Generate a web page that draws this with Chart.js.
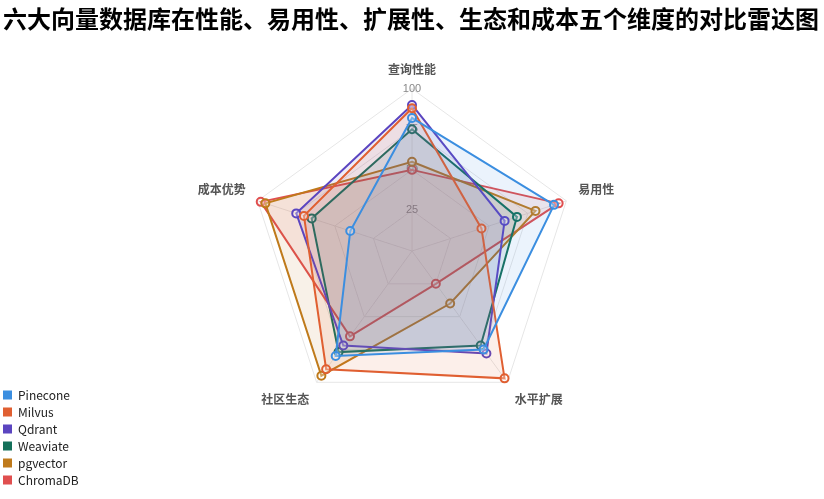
<!DOCTYPE html>
<html>
<head>
<meta charset="utf-8">
<script src="https://cdn.jsdelivr.net/npm/chart.js@4.4.1/dist/chart.umd.min.js"></script>
<style>
  html, body { margin: 0; padding: 0; background: #fff; }
  #wrap { width: 824px; height: 499px; }
</style>
</head>
<body>
<div id="wrap"><canvas id="myChart"></canvas></div>
<script>
// 数据
const dimensions = ['查询性能', '易用性', '水平扩展', '社区生态', '成本优势'];
const pinecone = [82, 92, 75, 80, 40];
const milvus = [88, 45, 97, 90, 70];
const qdrant = [90, 60, 78, 72, 75];
const weaviate = [75, 68, 72, 77, 65];
const pgvector = [55, 80, 40, 95, 95];
const chromadb = [50, 95, 25, 65, 98];

let mk = (label, data, color, fill) => ({
  label: label,
  data: data,
  borderColor: color,
  backgroundColor: fill,
  borderWidth: 2,
  pointRadius: 4,
  pointBorderWidth: 2,
  pointBackgroundColor: 'rgba(255,255,255,0.3)',
  pointBorderColor: color,
  fill: true
});

const defaultLabels = Chart.defaults.plugins.legend.labels.generateLabels;

// 空白占位框，只缩小绘图区，不影响标题和图例
let spacer = (pos, size) => ({
  id: 'spacer_' + pos,
  beforeInit(chart) {
    Chart.layouts.addBox(chart, {
      position: pos, weight: 0, fullSize: false, options: {},
      width: 0, height: 0, left: 0, top: 0, right: 0, bottom: 0,
      isHorizontal() { return pos === 'top' || pos === 'bottom'; },
      update(maxWidth, maxHeight) {
        if (this.isHorizontal()) { this.width = maxWidth; this.height = size; }
        else { this.width = size; this.height = maxHeight; }
      },
      draw() {}
    });
  }
});

var ctx = document.getElementById('myChart').getContext('2d');
var myChart = new Chart(ctx, {
  type: 'radar',
  data: {
    labels: dimensions,
    datasets: [
      mk('Pinecone', pinecone, '#3b8ee0', 'rgba(59,142,224,0.1)'),
      mk('Milvus', milvus, '#e05f31', 'rgba(224,95,49,0.1)'),
      mk('Qdrant', qdrant, '#5b45c0', 'rgba(91,69,192,0.1)'),
      mk('Weaviate', weaviate, '#14705a', 'rgba(20,112,90,0.1)'),
      mk('pgvector', pgvector, '#bf7a1b', 'rgba(191,122,27,0.1)'),
      mk('ChromaDB', chromadb, '#e04f4f', 'rgba(224,79,79,0.1)')
    ]
  },
  plugins: [spacer('right', 88), spacer('bottom', 58)],
  options: {
    responsive: true,
    maintainAspectRatio: false,
    animation: false,
    layout: { padding: { left: -2, bottom: 8 } },
    plugins: {
      title: {
        display: true,
        text: '六大向量数据库在性能、易用性、扩展性、生态和成本五个维度的对比雷达图',
        color: '#000',
        font: { family: '"Noto Sans CJK SC"', size: 24, weight: 'bold' },
        padding: { top: 4, bottom: 20 }
      },
      legend: {
        position: 'left',
        align: 'end',
        labels: {
          boxWidth: 9,
          boxHeight: 9,
          padding: 5,
          color: '#222',
          font: { family: '"Noto Sans CJK SC"', size: 12 },
          generateLabels: (chart) => defaultLabels(chart).map(item => {
            item.fillStyle = item.strokeStyle;
            item.lineWidth = 0;
            return item;
          })
        }
      }
    },
    scales: {
      r: {
        min: 0,
        max: 100,
        ticks: { stepSize: 25, color: '#888', font: { size: 11 }, backdropColor: 'rgba(255,255,255,0)' },
        grid: { color: '#e6e6e6' },
        angleLines: { color: '#e6e6e6' },
        pointLabels: { color: '#555', font: { family: '"Noto Sans CJK SC"', size: 12, weight: 'bold' } }
      }
    }
  }
});
</script>
</body>
</html>
